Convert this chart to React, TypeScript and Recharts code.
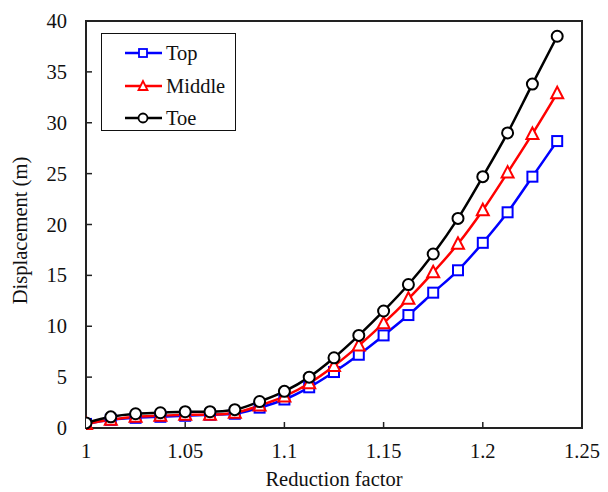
import { LineChart, Line, XAxis, YAxis, Legend, ReferenceArea } from "recharts";

const factors = [1, 1.0125, 1.025, 1.0375, 1.05, 1.0625, 1.075, 1.0875, 1.1, 1.1125, 1.125, 1.1375, 1.15, 1.1625, 1.175, 1.1875, 1.2, 1.2125, 1.225, 1.2375];
const top = [0.4, 0.8, 1.0, 1.1, 1.2, 1.3, 1.4, 2.0, 2.8, 4.0, 5.5, 7.2, 9.1, 11.1, 13.3, 15.5, 18.2, 21.2, 24.7, 28.2];
const middle = [0.4, 0.8, 1.1, 1.2, 1.3, 1.3, 1.5, 2.2, 3.1, 4.4, 6.1, 8.1, 10.3, 12.7, 15.3, 18.1, 21.4, 25.1, 28.9, 32.9];
const toe = [0.5, 1.1, 1.4, 1.5, 1.6, 1.6, 1.8, 2.6, 3.6, 5.0, 6.9, 9.1, 11.5, 14.1, 17.1, 20.6, 24.7, 29.0, 33.8, 38.5];
const xTicks = [1, 1.05, 1.1, 1.15, 1.2, 1.25];
const yTicks = [0, 5, 10, 15, 20, 25, 30, 35, 40];

const data = factors.map((rf, i) => ({ rf, top: top[i], middle: middle[i], toe: toe[i] }));

const FONT = "'Liberation Serif', 'Times New Roman', serif";
const BLUE = "#0000ff";
const RED = "#ff0000";
const BLACK = "#000000";
const FRAME = "#222222";

const fmt = (v: number) => String(Number(v.toFixed(2)));

function SquareDot(props: any) {
  const { cx, cy, index } = props;
  if (cx == null || cy == null) return null;
  return <rect key={`sq-${index}`} x={cx - 5} y={cy - 5} width={10} height={10} fill="#fff" stroke={BLUE} strokeWidth={2} />;
}

function TriangleDot(props: any) {
  const { cx, cy, index } = props;
  if (cx == null || cy == null) return null;
  return (
    <polygon
      key={`tr-${index}`}
      points={`${cx},${cy - 6.5} ${cx - 6},${cy + 5} ${cx + 6},${cy + 5}`}
      fill="#fff"
      stroke={RED}
      strokeWidth={2}
    />
  );
}

function XTick(props: any) {
  const { x, y, payload } = props;
  const v = payload.value;
  return (
    <g>
      {v > 1 && v < 1.25 && <line x1={x} y1={y} x2={x} y2={y - 6} stroke={FRAME} strokeWidth={1.5} />}
      <text x={x} y={y + 30} textAnchor="middle" fontFamily={FONT} fontSize={20.5} fill="#111">
        {fmt(v)}
      </text>
    </g>
  );
}

function YTick(props: any) {
  const { x, y, payload } = props;
  const v = payload.value;
  return (
    <g>
      {v > 0 && v < 40 && <line x1={x} y1={y} x2={x + 6} y2={y} stroke={FRAME} strokeWidth={1.5} />}
      <text x={x - 19} y={y + 7} textAnchor="end" fontFamily={FONT} fontSize={20.5} fill="#111">
        {v}
      </text>
    </g>
  );
}

const legendItems = [
  { name: "Top", color: BLUE, shape: "square" },
  { name: "Middle", color: RED, shape: "triangle" },
  { name: "Toe", color: BLACK, shape: "circle" },
];

function LegendBox() {
  return (
    <div
      style={{
        width: 135,
        height: 98,
        border: "1.5px solid #111",
        background: "#fff",
        boxSizing: "border-box",
        paddingTop: 3,
        fontFamily: FONT,
        fontSize: 20.5,
        color: "#111",
      }}
    >
      {legendItems.map((it) => (
        <div key={it.name} style={{ display: "flex", alignItems: "center", height: 32.5 }}>
          <svg width={64} height={20} style={{ flex: "none" }}>
            <line x1={23} y1={10} x2={60} y2={10} stroke={it.color} strokeWidth={2.5} />
            {it.shape === "square" && <rect x={37} y={6} width={8} height={8} fill="#fff" stroke={it.color} strokeWidth={1.8} />}
            {it.shape === "triangle" && <polygon points="41,5 36.5,14 45.5,14" fill="#fff" stroke={it.color} strokeWidth={1.8} />}
            {it.shape === "circle" && <circle cx={41} cy={10} r={4.5} fill="#fff" stroke={it.color} strokeWidth={1.8} />}
          </svg>
          <span style={{ lineHeight: "20px" }}>{it.name}</span>
        </div>
      ))}
    </div>
  );
}

export default function App() {
  return (
    <div style={{ position: "absolute", left: 0, top: 0, width: 608, height: 492, background: "#fff" }}>
      <LineChart width={608} height={492} data={data} margin={{ top: 21, right: 26, left: 0, bottom: 0 }}>
        <XAxis
          dataKey="rf"
          type="number"
          domain={[1, 1.25]}
          ticks={xTicks}
          allowDataOverflow
          height={64}
          axisLine={false}
          tickLine={false}
          tickSize={0}
          tickMargin={0}
          tick={<XTick />}
          interval={0}
          label={{ value: "Reduction factor", position: "insideBottom", offset: 6, fontFamily: FONT, fontSize: 20.5, fill: "#111" }}
        />
        <YAxis
          type="number"
          domain={[0, 40]}
          ticks={yTicks}
          width={86}
          axisLine={false}
          tickLine={false}
          tickSize={0}
          tickMargin={0}
          tick={<YTick />}
          interval={0}
          label={{
            content: (p: any) => {
              const vb = p.viewBox || { x: 0, y: 21, width: 86, height: 407 };
              const cx = vb.x + 27;
              const cy = vb.y + vb.height / 2 + 6;
              return (
                <text x={cx} y={cy} transform={`rotate(-90 ${cx} ${cy})`} textAnchor="middle" fontFamily={FONT} fontSize={20.5} fill="#111">
                  Displacement (m)
                </text>
              );
            },
          }}
        />
        <ReferenceArea x1={1} x2={1.25} y1={0} y2={40} fill="none" stroke={FRAME} strokeWidth={2} ifOverflow="visible" />
        <Legend
          layout="vertical"
          align="center"
          verticalAlign="middle"
          wrapperStyle={{ left: 101, top: 33, width: 136 }}
          content={() => <LegendBox />}
        />
        <Line type="monotone" dataKey="top" name="Top" stroke={BLUE} strokeWidth={2.5} dot={<SquareDot />} isAnimationActive={false} />
        <Line type="monotone" dataKey="middle" name="Middle" stroke={RED} strokeWidth={2.5} dot={<TriangleDot />} isAnimationActive={false} />
        <Line
          type="monotone"
          dataKey="toe"
          name="Toe"
          stroke={BLACK}
          strokeWidth={2.5}
          dot={{ r: 5.5, fill: "#fff", stroke: BLACK, strokeWidth: 2 }}
          isAnimationActive={false}
        />
      </LineChart>
    </div>
  );
}
